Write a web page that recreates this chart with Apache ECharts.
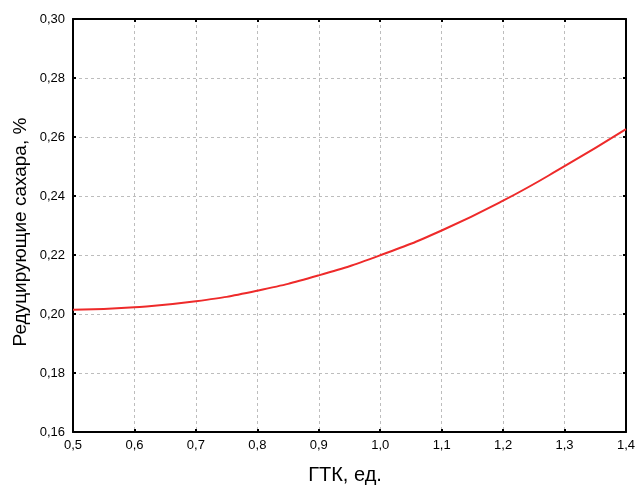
<!DOCTYPE html>
<html>
<head>
<meta charset="utf-8">
<script src="https://cdn.jsdelivr.net/npm/echarts@6/dist/echarts.min.js"></script>
<style>
html,body{margin:0;padding:0;background:#fff;}
#chart{width:636px;height:486px;}
</style>
</head>
<body>
<div id="chart"></div>
<script>
// ГТК (hydrothermal coefficient) values and the fitted reducing sugar content
const gtk = [0.5, 0.6, 0.7, 0.8, 0.9, 1.0, 1.1, 1.2, 1.3, 1.4];
const sugar = [0.2014, 0.2023, 0.2043, 0.2079, 0.2131, 0.2199, 0.2283, 0.2384, 0.2501, 0.2627];

const xTitle = 'ГТК, ед.';
const yTitle = 'Редуцирующие сахара, %';

const chart = echarts.init(document.getElementById('chart'), null, {renderer: 'canvas'});
const fmt = v => v.toFixed(2).replace('.', ',');
const fmtX = v => v.toFixed(1).replace('.', ',');
const font = 'Liberation Sans, Arial, sans-serif';

const frameAxis = {
  axisLine: {show: true, lineStyle: {color: '#000', width: 2}},
  axisTick: {show: true, inside: true, length: 3, lineStyle: {color: '#000', width: 2}},
  axisLabel: {show: false},
  splitLine: {show: false}
};

chart.setOption({
  animation: false,
  grid: {left: 73, right: 10, top: 19, bottom: 54, containLabel: false, outerBoundsMode: 'none'},
  graphic: [
    {type: 'text', x: 345, y: 475, style: {text: xTitle, fontFamily: font, fontSize: 20, fill: '#000', align: 'center', verticalAlign: 'middle'}},
    {type: 'text', x: 21, y: 232, rotation: Math.PI / 2, style: {text: yTitle, fontFamily: font, fontSize: 19, fill: '#000', align: 'center', verticalAlign: 'middle'}}
  ],
  xAxis: [{
    type: 'value', min: 0.5, max: 1.4, interval: 0.1, position: 'bottom',
    axisLine: {show: true, lineStyle: {color: '#000', width: 2}},
    axisTick: {show: true, inside: true, length: 3, lineStyle: {color: '#000', width: 2}},
    axisLabel: {fontFamily: font, fontSize: 13, color: '#000', margin: 7, formatter: fmtX},
    splitLine: {show: true, lineStyle: {color: '#bdbdbd', type: [3, 3], width: 1}}
  }, Object.assign({type: 'value', min: 0.5, max: 1.4, interval: 0.1, position: 'top'}, frameAxis)],
  yAxis: [{
    type: 'value', min: 0.16, max: 0.30, interval: 0.02, position: 'left',
    axisLine: {show: true, lineStyle: {color: '#000', width: 2}},
    axisTick: {show: true, inside: true, length: 3, lineStyle: {color: '#000', width: 2}},
    axisLabel: {fontFamily: font, fontSize: 13, color: '#000', margin: 8, formatter: fmt},
    splitLine: {show: true, lineStyle: {color: '#bdbdbd', type: [3, 3], width: 1}}
  }, Object.assign({type: 'value', min: 0.16, max: 0.30, interval: 0.02, position: 'right'}, frameAxis)],
  series: [{
    type: 'line',
    data: gtk.map((x, i) => [x, sugar[i]]),
    smooth: true,
    showSymbol: false,
    lineStyle: {color: '#ee2a2a', width: 2},
    clip: true
  }]
});
</script>
</body>
</html>
